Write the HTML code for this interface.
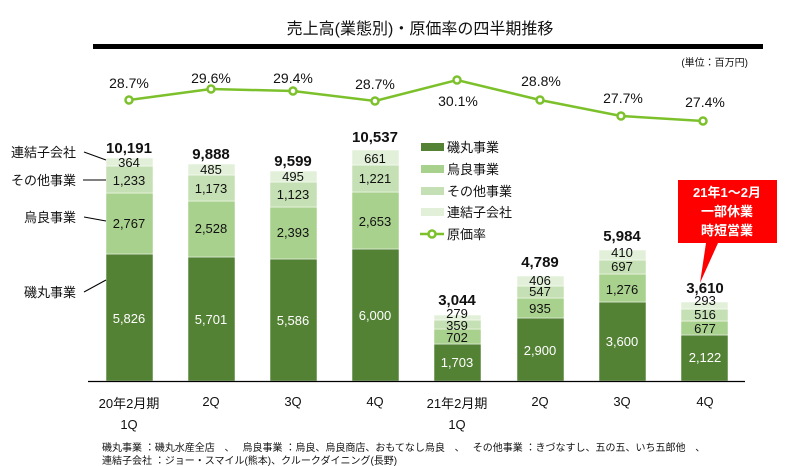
<!DOCTYPE html>
<html><head><meta charset="utf-8"><style>
body{margin:0;background:#fff}
svg{display:block;font-family:"Liberation Sans","Noto Sans CJK JP",sans-serif}
</style></head><body>
<svg width="800" height="466" viewBox="0 0 800 466" xmlns="http://www.w3.org/2000/svg">
<text x="420" y="34" font-size="16" text-anchor="middle" fill="#111">売上高(業態別)・原価率の四半期推移</text>
<rect x="93" y="44" width="670" height="5" fill="#000"/>
<text x="748" y="66" font-size="10" text-anchor="end" fill="#111">(単位：百万円)</text>

<g stroke="#fff" stroke-width="0.5">
<rect x="106" y="254" width="47" height="127" fill="#548235"/>
<rect x="106" y="193" width="47" height="61" fill="#a9d18e"/>
<rect x="106" y="166" width="47" height="27" fill="#c5e0b4"/>
<rect x="106" y="158" width="47" height="8" fill="#e2f0d9"/>
<rect x="188" y="257" width="47" height="124" fill="#548235"/>
<rect x="188" y="201" width="47" height="56" fill="#a9d18e"/>
<rect x="188" y="175" width="47" height="26" fill="#c5e0b4"/>
<rect x="188" y="164" width="47" height="11" fill="#e2f0d9"/>
<rect x="270" y="259" width="47" height="122" fill="#548235"/>
<rect x="270" y="207" width="47" height="52" fill="#a9d18e"/>
<rect x="270" y="182" width="47" height="25" fill="#c5e0b4"/>
<rect x="270" y="171" width="47" height="11" fill="#e2f0d9"/>
<rect x="352" y="249" width="47" height="132" fill="#548235"/>
<rect x="352" y="192" width="47" height="57" fill="#a9d18e"/>
<rect x="352" y="165" width="47" height="27" fill="#c5e0b4"/>
<rect x="352" y="150" width="47" height="15" fill="#e2f0d9"/>
<rect x="434" y="344" width="47" height="37" fill="#548235"/>
<rect x="434" y="329" width="47" height="15" fill="#a9d18e"/>
<rect x="434" y="320" width="47" height="9" fill="#c5e0b4"/>
<rect x="434" y="315" width="47" height="5" fill="#e2f0d9"/>
<rect x="517" y="318" width="47" height="63" fill="#548235"/>
<rect x="517" y="298" width="47" height="20" fill="#a9d18e"/>
<rect x="517" y="286" width="47" height="12" fill="#c5e0b4"/>
<rect x="517" y="276" width="47" height="10" fill="#e2f0d9"/>
<rect x="599" y="302" width="47" height="79" fill="#548235"/>
<rect x="599" y="274" width="47" height="28" fill="#a9d18e"/>
<rect x="599" y="260" width="47" height="14" fill="#c5e0b4"/>
<rect x="599" y="250" width="47" height="10" fill="#e2f0d9"/>
<rect x="681" y="335" width="47" height="46" fill="#548235"/>
<rect x="681" y="321" width="47" height="14" fill="#a9d18e"/>
<rect x="681" y="309" width="47" height="12" fill="#c5e0b4"/>
<rect x="681" y="302" width="47" height="7" fill="#e2f0d9"/>
</g>
<line x1="88" y1="381.5" x2="745" y2="381.5" stroke="#000" stroke-width="1.2"/>

<g font-size="13" text-anchor="middle" fill="#111">
<text x="129" y="167">364</text><text x="129" y="185">1,233</text><text x="129" y="228">2,767</text>
<text x="211" y="174">485</text><text x="211" y="193">1,173</text><text x="211" y="233">2,528</text>
<text x="293" y="181">495</text><text x="293" y="199">1,123</text><text x="293" y="237">2,393</text>
<text x="375" y="163">661</text><text x="375" y="183">1,221</text><text x="375" y="226">2,653</text>
<text x="457" y="318">279</text><text x="457" y="330">359</text><text x="457" y="342">702</text>
<text x="540" y="285">406</text><text x="540" y="296">547</text><text x="540" y="313">935</text>
<text x="622" y="257">410</text><text x="622" y="271">697</text><text x="622" y="294">1,276</text>
<text x="705" y="305">293</text><text x="705" y="319">516</text><text x="705" y="333">677</text>
</g>
<g font-size="13" text-anchor="middle" fill="#fff">
<text x="129" y="323">5,826</text><text x="211" y="324">5,701</text><text x="293" y="325">5,586</text><text x="375" y="320">6,000</text>
<text x="457" y="367">1,703</text><text x="540" y="355">2,900</text><text x="622" y="346">3,600</text><text x="705" y="362">2,122</text>
</g>
<g font-size="15" font-weight="bold" text-anchor="middle" fill="#111">
<text x="129" y="153">10,191</text><text x="211" y="159">9,888</text><text x="293" y="166">9,599</text><text x="375" y="142">10,537</text>
<text x="457" y="305">3,044</text><text x="540" y="267">4,789</text><text x="622" y="241">5,984</text><text x="705" y="293">3,610</text>
</g>

<polyline points="129,100 211,89 293,91 375,101 457,80 540,100 621,116 703,121" fill="none" stroke="#7cc12b" stroke-width="2.5"/>
<g fill="#fff" stroke="#7cc12b" stroke-width="2.5">
<circle cx="129" cy="100" r="3.5"/><circle cx="211" cy="89" r="3.5"/><circle cx="293" cy="91" r="3.5"/><circle cx="375" cy="101" r="3.5"/>
<circle cx="457" cy="80" r="3.5"/><circle cx="540" cy="100" r="3.5"/><circle cx="621" cy="116" r="3.5"/><circle cx="703" cy="121" r="3.5"/>
</g>
<g font-size="14" text-anchor="middle" fill="#111">
<text x="129" y="88">28.7%</text><text x="211" y="83">29.6%</text><text x="293" y="83">29.4%</text><text x="375" y="89">28.7%</text>
<text x="458" y="106">30.1%</text><text x="541" y="86">28.8%</text><text x="623" y="103">27.7%</text><text x="705" y="107">27.4%</text>
</g>

<g font-size="13" fill="#111">
<rect x="421" y="143" width="23" height="8" fill="#548235"/><text x="447" y="152">磯丸事業</text>
<rect x="421" y="165" width="23" height="8" fill="#a9d18e"/><text x="447" y="174">烏良事業</text>
<rect x="421" y="187" width="23" height="8" fill="#c5e0b4"/><text x="447" y="196">その他事業</text>
<rect x="421" y="208" width="23" height="8" fill="#e2f0d9"/><text x="447" y="217">連結子会社</text>
<line x1="420" y1="234" x2="444" y2="234" stroke="#7cc12b" stroke-width="2.5"/><circle cx="432" cy="234" r="3.5" fill="#fff" stroke="#7cc12b" stroke-width="2.5"/><text x="447" y="239">原価率</text>
</g>

<path d="M678,180 H777 V243 H718 L700,283 L706,243 H678 Z" fill="#f00"/>
<g font-size="13" font-weight="bold" fill="#fff" text-anchor="middle">
<text x="727" y="197">21年1～2月</text><text x="727" y="216">一部休業</text><text x="727" y="235">時短営業</text>
</g>

<g font-size="13" fill="#111" text-anchor="end">
<text x="76" y="157">連結子会社</text><text x="76" y="185">その他事業</text><text x="76" y="222">烏良事業</text><text x="76" y="297">磯丸事業</text>
</g>
<g stroke="#000" stroke-width="1">
<line x1="84" y1="152" x2="106" y2="160"/><line x1="83" y1="180" x2="106" y2="180"/>
<line x1="84" y1="217" x2="106" y2="221"/><line x1="84" y1="292" x2="106" y2="280"/>
</g>

<g font-size="13" text-anchor="middle" fill="#111">
<text x="129" y="408">20年2月期</text><text x="129" y="429">1Q</text>
<text x="211" y="406">2Q</text><text x="293" y="406">3Q</text><text x="375" y="406">4Q</text>
<text x="457" y="408">21年2月期</text><text x="457" y="429">1Q</text>
<text x="540" y="406">2Q</text><text x="622" y="406">3Q</text><text x="705" y="406">4Q</text>
</g>
<g font-size="10" fill="#111">
<text x="102" y="451">磯丸事業 ：磯丸水産全店　､　 烏良事業 ：烏良、烏良商店、おもてなし烏良　､　 その他事業 ：きづなすし、五の五、いち五郎他　､</text>
<text x="102" y="464">連結子会社 ：ジョー・スマイル(熊本)、クルークダイニング(長野)</text>
</g>
</svg>
</body></html>
